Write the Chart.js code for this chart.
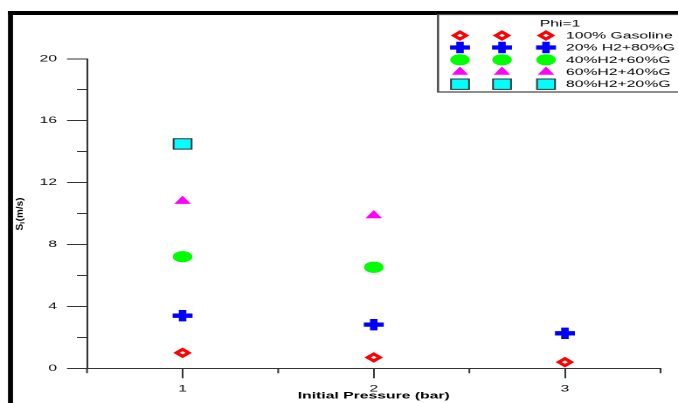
<!DOCTYPE html>
<html><head><meta charset="utf-8">
<script src="https://cdn.jsdelivr.net/npm/chart.js@4.4.1/dist/chart.umd.min.js"></script>
<style>html,body{margin:0;padding:0;background:#fff;overflow:hidden;} canvas{display:block;}</style>
</head><body>
<canvas id="c" width="388" height="403" style="width:678px;height:403px;"></canvas>
<script>
// ---- data ----
const pressures = [1, 2, 3];
const seriesLabels = ['100% Gasoline', '20% H2+80%G', '40%H2+60%G', '60%H2+40%G', '80%H2+20%G'];
const gasoline = [1.0, 0.7, 0.4];
const h2_20 = [3.4, 2.82, 2.26];
const h2_40 = [7.21, 6.53];
const h2_60 = [10.8, 9.87];
const h2_80 = [14.5];
const yLabelValues = [0, 4, 8, 12, 16, 20];
const xLabelValues = [1, 2, 3];
const legendTitle = 'Phi=1';
const xTitle = 'Initial Pressure (bar)';
const yTitleMain = 'S', yTitleSub = 'l', yTitleRest = '(m/s)';

// ---- styling ----
const S = 678 / 388; // horizontal stretch of the original picture
const FONT = "'Liberation Sans', Arial, sans-serif";
const styles = [
  {pointStyle: 'rectRot', radius: 3.5, borderWidth: 2.6, borderColor: '#ff0000', backgroundColor: '#ffffff'},
  {pointStyle: 'cross', radius: 5.7, borderWidth: 4.3, borderColor: '#0000ff', backgroundColor: '#0000ff'},
  {pointStyle: 'circle', radius: 5.6, borderWidth: 0, borderColor: '#00ff00', backgroundColor: '#00ff00'},
  {pointStyle: 'triangle', radius: 5.5, borderWidth: 0, borderColor: '#ff00ff', backgroundColor: '#ff00ff'},
  {pointStyle: 'rect', radius: 7.3, borderWidth: 1, borderColor: '#333333', backgroundColor: '#00ffff'}
];
const seriesValues = [gasoline, h2_20, h2_40, h2_60, h2_80];

const datasets = seriesValues.map((vals, k) => ({
  label: seriesLabels[k],
  data: vals.map((v, i) => ({x: pressures[i], y: v})),
  showLine: false,
  pointStyle: styles[k].pointStyle,
  pointRadius: styles[k].radius,
  pointHoverRadius: styles[k].radius,
  pointBorderWidth: styles[k].borderWidth,
  pointBorderColor: styles[k].borderColor,
  pointBackgroundColor: styles[k].backgroundColor
}));

function drawMarker(ctx, st, x, y) {
  ctx.save();
  ctx.fillStyle = st.backgroundColor;
  ctx.strokeStyle = st.borderColor;
  ctx.lineWidth = st.borderWidth;
  if (Chart.helpers && Chart.helpers.drawPoint) {
    Chart.helpers.drawPoint(ctx, {pointStyle: st.pointStyle, radius: st.radius, borderWidth: st.borderWidth, rotation: 0}, x, y);
  }
  ctx.restore();
}

const decorPlugin = {
  id: 'decor',
  beforeDatasetsDraw(chart) {
    const ctx = chart.ctx, xs = chart.scales.x, ys = chart.scales.y;
    ctx.save();
    ctx.strokeStyle = '#333';
    ctx.lineWidth = 1;
    ctx.beginPath();
    [2, 6, 10, 14, 18].forEach(v => {
      const py = Math.round(ys.getPixelForValue(v) * 2) / 2;
      ctx.moveTo(xs.left - 10 / S, py); ctx.lineTo(xs.left, py);
    });
    [0.5, 1.5, 2.5, 3.5].forEach(v => {
      const px = xs.getPixelForValue(v);
      ctx.moveTo(px, ys.bottom); ctx.lineTo(px, ys.bottom + 5);
    });
    ctx.stroke();
    ctx.restore();
  },
  afterDraw(chart) {
    const ctx = chart.ctx;
    ctx.save();
    // frame lines (top + left)
    ctx.fillStyle = '#000';
    ctx.fillRect(8 / S, 11, 400, 4);
    ctx.fillRect(8 / S, 11, 5 / S, 400);
    // legend box
    const lx = 438 / S;
    ctx.strokeStyle = '#444';
    ctx.lineWidth = 1.2;
    ctx.strokeRect(lx, 14.5, 400, 77.5);
    ctx.fillStyle = '#000';
    ctx.font = '9px ' + FONT;
    ctx.textBaseline = 'middle';
    ctx.textAlign = 'center';
    ctx.fillText(legendTitle, 560 / S, 24);
    const rows = [35.5, 47.5, 59.8, 72, 84.2];
    const mx = [460 / S, 502 / S, 546 / S];
    ctx.textAlign = 'left';
    seriesLabels.forEach((lab, k) => {
      mx.forEach(x => drawMarker(ctx, styles[k], x, rows[k]));
      ctx.fillStyle = '#000';
      ctx.font = '9px ' + FONT;
      ctx.textBaseline = 'middle';
      ctx.fillText(lab, 566 / S, rows[k] + 0.5);
    });
    // y axis title (not stretched)
    ctx.translate(19.7 / S, 214);
    ctx.scale(1 / S, 1);
    ctx.rotate(-Math.PI / 2);
    ctx.fillStyle = '#000';
    ctx.textBaseline = 'middle';
    ctx.textAlign = 'left';
    const fMain = 'bold 10px ' + FONT, fSub = 'bold 7px ' + FONT;
    ctx.font = fMain; const w1 = ctx.measureText(yTitleMain).width, w3 = ctx.measureText(yTitleRest).width;
    ctx.font = fSub; const w2 = ctx.measureText(yTitleSub).width + 0.5;
    let x0 = -(w1 + w2 + w3) / 2;
    ctx.font = fMain; ctx.fillText(yTitleMain, x0, 0);
    ctx.font = fSub; ctx.fillText(yTitleSub, x0 + w1, 3);
    ctx.font = fMain; ctx.fillText(yTitleRest, x0 + w1 + w2, 0);
    ctx.restore();
  }
};

new Chart(document.getElementById('c'), {
  type: 'scatter',
  data: {datasets},
  plugins: [decorPlugin],
  options: {
    responsive: false,
    devicePixelRatio: 2,
    animation: false,
    events: [],
    layout: {padding: {left: 0, top: 58.8, right: 388 - 662.5 / S, bottom: 1.6}},
    plugins: {legend: {display: false}, tooltip: {enabled: false}},
    scales: {
      x: {
        type: 'linear', min: 0.5, max: 3.5,
        afterFit: (sc) => { sc.height = 403 - 1.6 - 368.3; },
        afterBuildTicks: (sc) => { sc.ticks = [0.5, 1, 1.5, 2, 2.5, 3, 3.5].map(v => ({value: v})); },
        ticks: {
          color: '#111', font: {family: FONT, size: 9}, padding: 5.5, autoSkip: false, maxRotation: 0,
          callback: (v) => xLabelValues.includes(v) ? String(v) : ''
        },
        grid: {drawOnChartArea: false, tickLength: 10, tickWidth: 1,
          tickColor: (c) => (c.tick && xLabelValues.includes(c.tick.value)) ? '#333' : 'rgba(0,0,0,0)'},
        border: {display: true, color: '#333', width: 1},
        title: {display: true, text: xTitle, color: '#000', font: {family: FONT, size: 9, weight: 'bold'}, padding: {top: 0, bottom: 0}}
      },
      y: {
        type: 'linear', min: 0, max: 20,
        afterFit: (sc) => { sc.width = 87 / S; },
        afterBuildTicks: (sc) => { sc.ticks = [0, 2, 4, 6, 8, 10, 12, 14, 16, 18, 20].map(v => ({value: v})); },
        ticks: {
          color: '#111', font: {family: FONT, size: 9}, padding: 5.7, autoSkip: false,
          callback: (v) => yLabelValues.includes(v) ? String(v) : ''
        },
        grid: {drawOnChartArea: false, tickLength: 20 / S, tickWidth: 1,
          tickColor: (c) => (c.tick && yLabelValues.includes(c.tick.value)) ? '#333' : 'rgba(0,0,0,0)'},
        border: {display: true, color: '#333', width: 1}
      }
    }
  }
});
</script>
</body></html>
